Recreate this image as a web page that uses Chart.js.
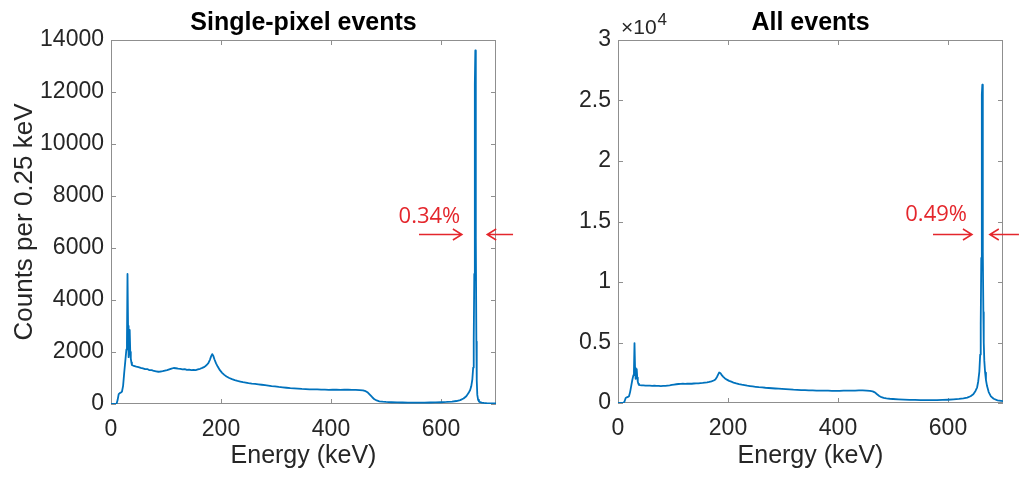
<!DOCTYPE html>
<html>
<head>
<meta charset="utf-8">
<script src="https://cdn.jsdelivr.net/npm/chart.js@4"></script>
<style>
  html, body { margin: 0; padding: 0; background: #fff; }
  #wrap { position: relative; width: 1019px; height: 477px; overflow: hidden; }
  .panel { position: absolute; top: 0; height: 477px; }
  #leftPanel { left: 0; width: 540px; }
  #rightPanel { left: 540px; width: 479px; }
</style>
</head>
<body>
<div id="wrap">
  <div class="panel" id="leftPanel"><canvas id="singleChart"></canvas></div>
  <div class="panel" id="rightPanel"><canvas id="allChart"></canvas></div>
</div>
<script>
// energy bins (keV), shared by both spectra
const energyKeV = [
  0, 5, 10, 12, 14, 16, 18, 20, 22, 24, 26, 28, 29, 30, 31, 32, 33, 34, 35, 36, 37, 38,
  40, 43, 46, 50, 54, 58, 62, 66, 70, 74, 78, 82, 86, 90, 94, 98, 102, 106, 110, 114, 118, 122, 126, 130, 134, 138, 142, 146, 150, 154, 158, 162, 166, 170, 174,
  177, 180, 182, 184, 186, 188, 191, 194, 198, 202, 206, 210, 215, 220, 225, 230, 235, 240, 245, 250,
  256, 262, 268, 274, 280, 286, 292, 298, 305, 312, 319, 326, 333, 340, 347, 354, 361, 368, 375, 382, 389, 396, 403, 410, 417, 424, 431, 438, 445, 452,
  458, 463, 467, 471, 475, 479, 483, 488, 494, 500, 510, 520, 530, 540, 550, 560, 570, 580, 590, 600, 610, 620, 628, 635, 641, 646, 650,
  653, 655, 657, 658.5, 659.5, 660.5, 661.2, 661.8, 662.4, 663, 663.6, 664.3, 665, 666, 667.5, 669, 671, 674, 678, 683, 690, 700
];

// counts per 0.25 keV, single-pixel events
const singlePixelCounts = [
  0, 0, 0, 150, 380, 420, 440, 480, 700, 1200, 1650, 2100, 2350, 5000, 3000, 1800, 2300, 2850, 2000, 1750, 1600, 1500,
  1480, 1460, 1440, 1420, 1390, 1370, 1340, 1345, 1300, 1305, 1270, 1255, 1240, 1250, 1265, 1285, 1300, 1330, 1360, 1385, 1375, 1360, 1350, 1330, 1340, 1310, 1325, 1300, 1310, 1305, 1330, 1355, 1390, 1430, 1500,
  1570, 1710, 1830, 1920, 1850, 1720, 1560, 1440, 1300, 1200, 1120, 1060, 1000, 955, 920, 890, 865, 840, 825, 805,
  785, 770, 755, 740, 725, 710, 690, 675, 655, 640, 625, 610, 600, 590, 580, 575, 565, 560, 562, 550, 555, 545, 548, 552, 540, 548, 552, 540, 545, 535,
  525, 495, 440, 350, 260, 180, 135, 105, 88, 78, 68, 62, 58, 56, 54, 55, 56, 58, 62, 68, 78, 95, 115, 150, 210, 300, 420,
  540, 680, 950, 1400, 2400, 5000, 8800, 12300, 13600, 11000, 6400, 2400, 900, 350, 160, 100, 70, 50, 40, 32, 25, 20
];

// counts per 0.25 keV, all events
const allEventCounts = [
  0, 0, 0, 150, 420, 470, 500, 560, 900, 1400, 1900, 2300, 2600, 4950, 2900, 2000, 2400, 2800, 2100, 1750, 1600, 1500,
  1480, 1460, 1450, 1440, 1430, 1440, 1420, 1430, 1410, 1420, 1400, 1410, 1420, 1440, 1460, 1490, 1520, 1550, 1570, 1580, 1590, 1580, 1590, 1600, 1590, 1610, 1620, 1630, 1650, 1660, 1680, 1700, 1740, 1790, 1860,
  1950, 2150, 2350, 2520, 2480, 2350, 2180, 2050, 1930, 1830, 1760, 1690, 1620, 1560, 1510, 1470, 1430, 1400, 1370, 1340,
  1310, 1290, 1260, 1240, 1220, 1200, 1180, 1160, 1140, 1120, 1100, 1090, 1070, 1060, 1050, 1040, 1030, 1030, 1020, 1020, 1010, 1010, 1010, 1020, 1020, 1030, 1030, 1040, 1040, 1030,
  1000, 960, 880, 720, 580, 480, 420, 380, 350, 330, 300, 280, 260, 250, 240, 230, 230, 240, 250, 270, 300, 340, 390, 450, 560, 720, 1000,
  1300, 1800, 2600, 4000, 6500, 12000, 19000, 25500, 26300, 20000, 12500, 7500, 5000, 3500, 2500, 1900, 1400, 900, 550, 350, 220, 150
];

const titles = ["Single-pixel events", "All events"];
const resolutionLabels = ["0.34%", "0.49%"];
// annotation anchors in data units: [text keV, text counts], arrow y (counts), arrows [from keV, to keV]
const labelAnchors = [[635, 7200], [634.5, 15600]];
const arrowLevels = [6540, 13970];
const arrowsIn = [[560, 638], [572.7, 643.6]];
const arrowsOut = [[731, 684], [729, 676]];

const FONT = "'Liberation Sans', Arial, Helvetica, sans-serif";
Chart.defaults.font.family = FONT;
Chart.defaults.color = "#262626";

const toPoints = (vals) => energyKeV.map((e, i) => ({ x: e, y: vals[i] }));

// MATLAB style box with inward ticks on all four sides
const matlabBox = {
  id: "matlabBox",
  beforeDatasetsDraw(chart) {
    const { ctx, chartArea: a, scales } = chart;
    const len = 5;
    ctx.save();
    ctx.strokeStyle = "#8f8f8f";
    ctx.lineWidth = 1;
    ctx.strokeRect(a.left + 0.5, a.top + 0.5, a.right - a.left - 1, a.bottom - a.top - 1);
    ctx.beginPath();
    scales.x.ticks.forEach((t) => {
      const px = Math.round(scales.x.getPixelForValue(t.value)) + 0.5;
      ctx.moveTo(px, a.bottom); ctx.lineTo(px, a.bottom - len);
      ctx.moveTo(px, a.top); ctx.lineTo(px, a.top + len);
    });
    scales.y.ticks.forEach((t) => {
      const py = Math.round(scales.y.getPixelForValue(t.value)) + 0.5;
      ctx.moveTo(a.left, py); ctx.lineTo(a.left + len, py);
      ctx.moveTo(a.right, py); ctx.lineTo(a.right - len, py);
    });
    ctx.stroke();
    ctx.restore();
  },
};

function drawArrow(ctx, x1, x2, y) {
  const dir = x2 > x1 ? 1 : -1;
  ctx.beginPath();
  ctx.moveTo(x1, y); ctx.lineTo(x2, y);
  ctx.moveTo(x2 - dir * 9, y - 5.5); ctx.lineTo(x2, y); ctx.lineTo(x2 - dir * 9, y + 5.5);
  ctx.stroke();
}

const fwhmNote = {
  id: "fwhmNote",
  afterDraw(chart, args, opts) {
    if (!opts || !opts.text) return;
    const { ctx, scales: { x, y } } = chart;
    ctx.save();
    ctx.fillStyle = "#e4262c";
    ctx.strokeStyle = "#e4262c";
    ctx.lineWidth = 1.5;
    ctx.font = "22px 'Open Sans', sans-serif";
    ctx.textAlign = "right";
    ctx.textBaseline = "middle";
    ctx.fillText(opts.text, x.getPixelForValue(opts.anchor[0]), y.getPixelForValue(opts.anchor[1]));
    const ay = Math.round(y.getPixelForValue(opts.level)) + 0.5;
    drawArrow(ctx, x.getPixelForValue(opts.inArrow[0]), x.getPixelForValue(opts.inArrow[1]), ay);
    drawArrow(ctx, x.getPixelForValue(opts.outArrow[0]), x.getPixelForValue(opts.outArrow[1]), ay);
    if (opts.exponent) {
      const a = chart.chartArea;
      ctx.fillStyle = "#262626";
      ctx.textAlign = "left";
      ctx.textBaseline = "alphabetic";
      ctx.font = "21px " + FONT;
      ctx.fillText("\u00d710", a.left + 3, a.top - 6);
      const w = ctx.measureText("\u00d710").width;
      ctx.font = "17px " + FONT;
      ctx.fillText(opts.exponent, a.left + 4 + w, a.top - 15);
    }
    ctx.restore();
  },
};

function makeChart(id, idx, counts, yMax, yStep, yFmt, yTitle, axisWidth, axisHeight, padRight, exponent) {
  return new Chart(document.getElementById(id), {
    type: "line",
    data: {
      datasets: [{
        data: toPoints(counts),
        borderColor: "#0072bd",
        borderWidth: 1.8,
        pointRadius: 0,
        tension: 0,
        borderJoinStyle: "round",
      }],
    },
    options: {
      responsive: true,
      maintainAspectRatio: false,
      animation: false,
      events: [],
      layout: { padding: { left: 0, right: padRight, top: 0, bottom: 0 } },
      plugins: {
        legend: { display: false },
        tooltip: { enabled: false },
        title: {
          display: true,
          text: titles[idx],
          color: "#000",
          fullSize: false,
          font: { size: 25, weight: "bold" },
          padding: { top: 8, bottom: 2 },
        },
        fwhmNote: {
          text: resolutionLabels[idx],
          anchor: labelAnchors[idx],
          level: arrowLevels[idx],
          inArrow: arrowsIn[idx],
          outArrow: arrowsOut[idx],
          exponent: exponent,
        },
      },
      scales: {
        x: {
          type: "linear",
          min: 0,
          max: 700,
          grid: { display: false, drawTicks: false },
          border: { display: false },
          ticks: { stepSize: 200, includeBounds: false, padding: 12, maxRotation: 0, font: { size: 23 } },
          title: { display: true, text: "Energy (keV)", font: { size: 25 }, padding: { top: 0, bottom: 6 } },
          afterFit: (s) => { s.height = axisHeight; },
        },
        y: {
          min: 0,
          max: yMax,
          grid: { display: false, drawTicks: false },
          border: { display: false },
          ticks: { stepSize: yStep, padding: 7, font: { size: 23 }, callback: yFmt },
          title: { display: !!yTitle, text: yTitle, font: { size: 26 }, padding: { top: 9, bottom: 0 } },
          afterFit: (s) => { s.width = axisWidth; },
        },
      },
    },
    plugins: [matlabBox, fwhmNote],
  });
}

makeChart("singleChart", 0, singlePixelCounts, 14000, 2000, (v) => String(v),
  "Counts per 0.25 keV", 111, 73, 44, null);
makeChart("allChart", 1, allEventCounts, 30000, 5000, (v) => String(v / 10000),
  "", 78, 74, 16, "4");
</script>
</body>
</html>
